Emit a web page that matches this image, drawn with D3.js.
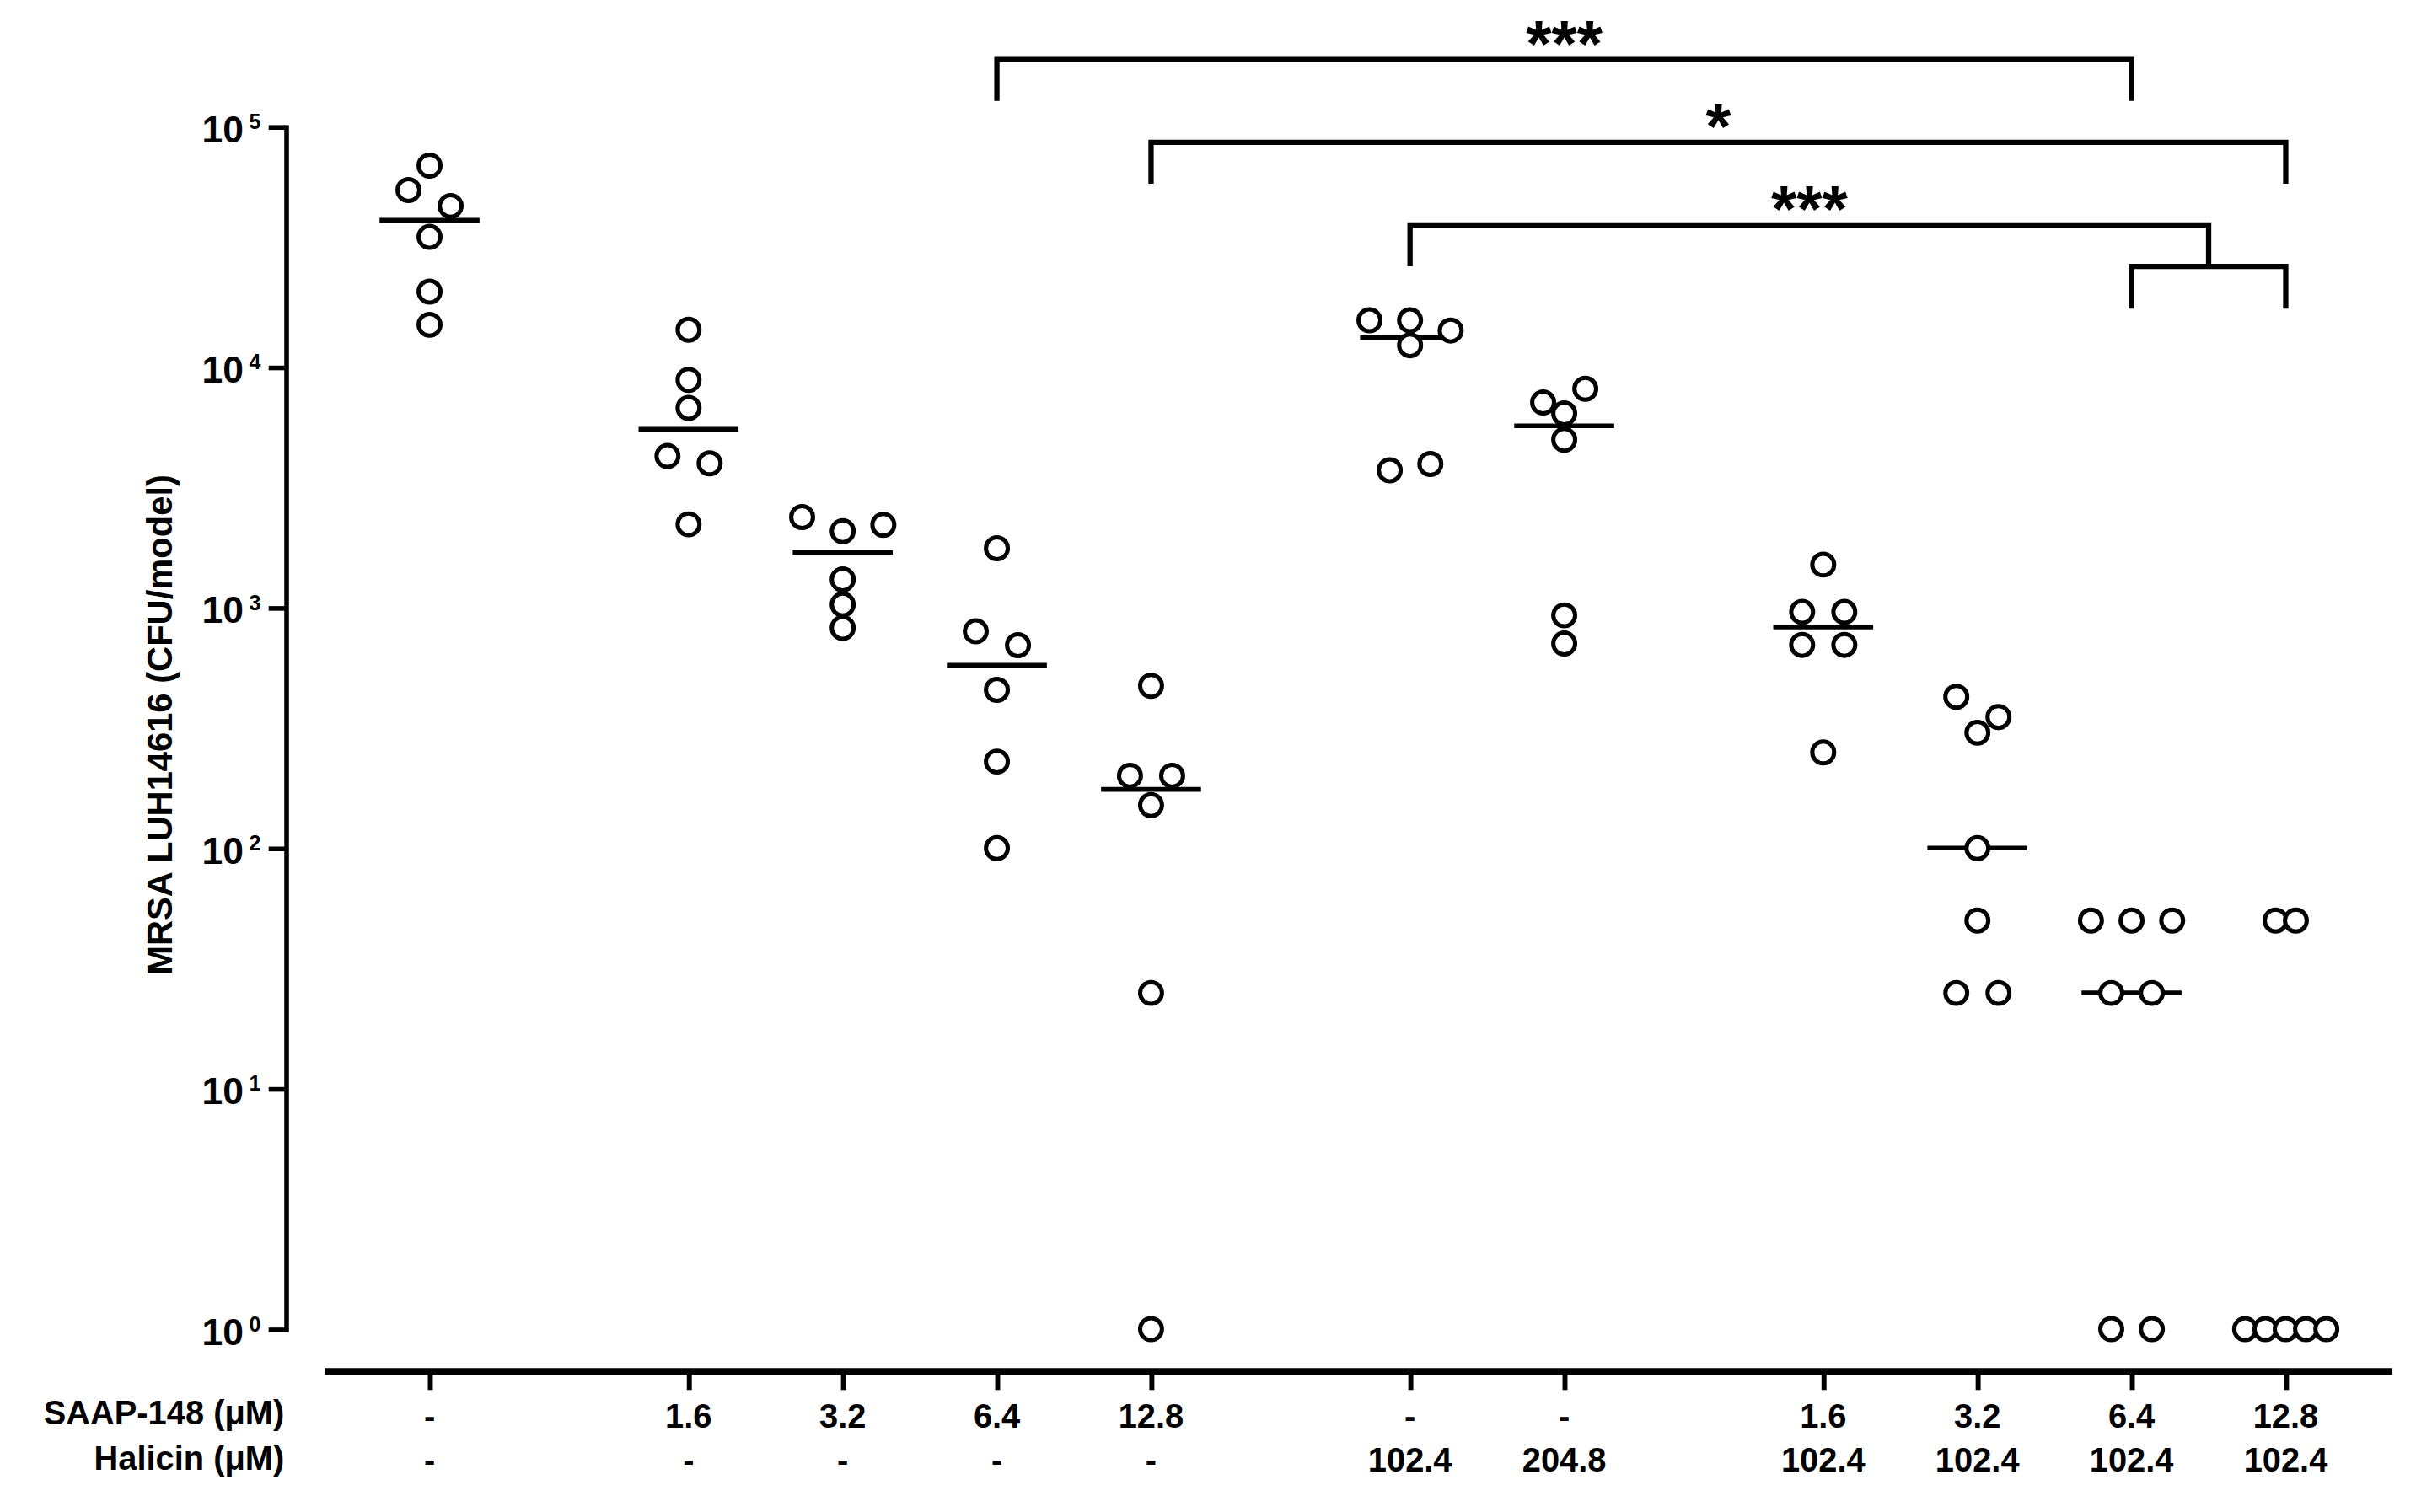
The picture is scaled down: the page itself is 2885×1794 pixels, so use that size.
<!DOCTYPE html>
<html>
<head>
<meta charset="utf-8">
<script src="https://cdn.jsdelivr.net/npm/d3@7"></script>
<style>
  body { margin: 0; background: #fff; }
  text { font-family: "Liberation Sans", Arial, sans-serif; font-weight: bold; fill: #000; }
</style>
</head>
<body>
<script>
// ---- data ----
const saap    = ["-", "1.6", "3.2", "6.4", "12.8", "-", "-", "1.6", "3.2", "6.4", "12.8"];
const halicin = ["-", "-", "-", "-", "-", "102.4", "204.8", "102.4", "102.4", "102.4", "102.4"];
// which block of treatments each column belongs to (blocks are set apart by a wider gap)
const block   = [0, 1, 1, 1, 1, 2, 2, 3, 3, 3, 3];

// CFU per model, one list per column
const cfu = [
  [68850, 54500, 46800, 34800, 20600, 15000],
  [14300, 8850, 6770, 4270, 3980, 2220],
  [2380, 2080, 2210, 1310, 1030, 824],
  [1766, 797, 698, 455, 229, 100],
  [473, 200, 200, 151, 25, 1],
  [15660, 15660, 14200, 12330, 3727, 3957],
  [7130, 8130, 6420, 4990, 929, 709],
  [1510, 960, 960, 700, 700, 250],
  [426, 351, 302, 100, 50, 25, 25],
  [50, 50, 50, 25, 25, 1, 1],
  [50, 50, 1, 1, 1, 1, 1]
];

const yTicks = [1, 10, 100, 1000, 10000, 100000];

// significance brackets: left column(s), right column(s), stars
const compLeft  = [[3], [4], [5]];
const compRight = [[9], [10], [9, 10]];
const compStars = ["***", "*", "***"];

// ---- layout ----
const W = 1557, H = 968;
const svg = d3.select("body").append("svg")
  .attr("width", 2885).attr("height", 1794)
  .attr("viewBox", `0 0 ${W} ${H}`);

const gap = 0.68;
const slot = block.map((b, i) => i + gap * b);
const x = d3.scaleLinear().domain([0, 1]).range([275, 373.7]);
const y = d3.scaleLog().domain([1, 1e5]).range([851, 81]);

// y axis
const yAxisX = 183;
const gy = svg.append("g")
  .attr("transform", `translate(${yAxisX},0)`)
  .call(d3.axisLeft(y).tickValues(yTicks).tickSize(11).tickSizeOuter(0).tickFormat(""));
gy.select(".domain").attr("stroke-width", 3).attr("stroke-linecap", "square");
gy.selectAll(".tick line").attr("stroke-width", 3);

const ylab = svg.append("g").selectAll("text")
  .data(yTicks).join("text")
  .attr("x", 167)
  .attr("y", d => y(d) + 10)
  .attr("text-anchor", "end")
  .attr("font-size", 24);
ylab.append("tspan").text("10");
ylab.append("tspan")
  .attr("dx", 3.5).attr("dy", -8.5)
  .attr("font-size", 13.5)
  .text(d => Math.round(Math.log10(d)));

svg.append("text")
  .attr("transform", `translate(110,464) rotate(-90)`)
  .attr("text-anchor", "middle")
  .attr("font-size", 22.5)
  .text("MRSA LUH14616 (CFU/model)");

// x axis
const axisY = 878;
const gx = svg.append("g")
  .attr("transform", `translate(0,${axisY})`)
  .call(d3.axisBottom(x).tickValues(slot).tickSize(12).tickSizeOuter(0).tickFormat(""));
gx.select(".domain")
  .attr("d", `M${x(-0.68)},0H${x(slot[slot.length - 1] + 0.69)}`)
  .attr("stroke-width", 4.2);
gx.selectAll(".tick line").attr("stroke-width", 3.2);

const row1 = 914, row2 = 942;
svg.append("g").selectAll("text")
  .data(saap).join("text")
  .attr("x", (d, i) => x(slot[i])).attr("y", row1)
  .attr("text-anchor", "middle").attr("font-size", 21.5)
  .text(d => d);
svg.append("g").selectAll("text")
  .data(halicin).join("text")
  .attr("x", (d, i) => x(slot[i])).attr("y", row2)
  .attr("text-anchor", "middle").attr("font-size", 21.5)
  .text(d => d);
svg.append("text").attr("x", 182).attr("y", row1 - 2)
  .attr("text-anchor", "end").attr("font-size", 21.5).text("SAAP-148 (\u03bcM)");
svg.append("text").attr("x", 182).attr("y", row2 - 1)
  .attr("text-anchor", "end").attr("font-size", 21.5).text("Halicin (\u03bcM)");

// ---- scatter: points sharing a height are spread sideways in rows ----
const rowTol = 14, maxSpan = 52, maxStep = 27;
const points = [];
cfu.forEach((vals, gi) => {
  const order = vals.map((v, i) => i).sort((a, b) => y(vals[a]) - y(vals[b]));
  const rows = [];
  order.forEach(i => {
    const r = rows[rows.length - 1];
    if (r && y(vals[i]) - r.start <= rowTol) r.items.push(i);
    else rows.push({ start: y(vals[i]), items: [i] });
  });
  const maxN = d3.max(rows, r => r.items.length);
  const step = maxN > 1 ? Math.min(maxStep, maxSpan / (maxN - 1)) : 0;
  rows.forEach(r => {
    r.items.sort((a, b) => a - b);
    r.items.forEach((i, k) => {
      points.push({ g: gi, v: vals[i], off: (k - (r.items.length - 1) / 2) * step });
    });
  });
});

// medians
svg.append("g").selectAll("line")
  .data(cfu).join("line")
  .attr("x1", (d, i) => x(slot[i]) - 32)
  .attr("x2", (d, i) => x(slot[i]) + 32)
  .attr("y1", d => y(d3.median(d)))
  .attr("y2", d => y(d3.median(d)))
  .attr("stroke", "#000").attr("stroke-width", 3);

svg.append("g").selectAll("circle")
  .data(points).join("circle")
  .attr("cx", d => x(slot[d.g]) + d.off)
  .attr("cy", d => y(d.v))
  .attr("r", 7)
  .attr("fill", "#fff")
  .attr("stroke", "#000")
  .attr("stroke-width", 2.7);

// ---- significance brackets ----
const level0 = 38, levelStep = 53, drop = 26.5;
const gb = svg.append("g").attr("fill", "none").attr("stroke", "#000").attr("stroke-width", 3.4);
compStars.forEach((s, i) => {
  const yb = level0 + i * levelStep;
  const lx = d3.mean(compLeft[i], j => x(slot[j]));
  const rx = d3.mean(compRight[i], j => x(slot[j]));
  gb.append("path").attr("d", `M${lx},${yb + drop}V${yb}H${rx}V${yb + drop}`);
  if (compRight[i].length > 1) {
    const a = x(slot[compRight[i][0]]), b = x(slot[compRight[i][compRight[i].length - 1]]);
    gb.append("path").attr("d", `M${a},${yb + drop + 27}V${yb + drop}H${b}V${yb + drop + 27}`);
  }
  svg.append("text")
    .attr("x", (lx + rx) / 2).attr("y", yb + 4.5)
    .attr("text-anchor", "middle").attr("font-size", 42)
    .text(s);
});
</script>
</body>
</html>
